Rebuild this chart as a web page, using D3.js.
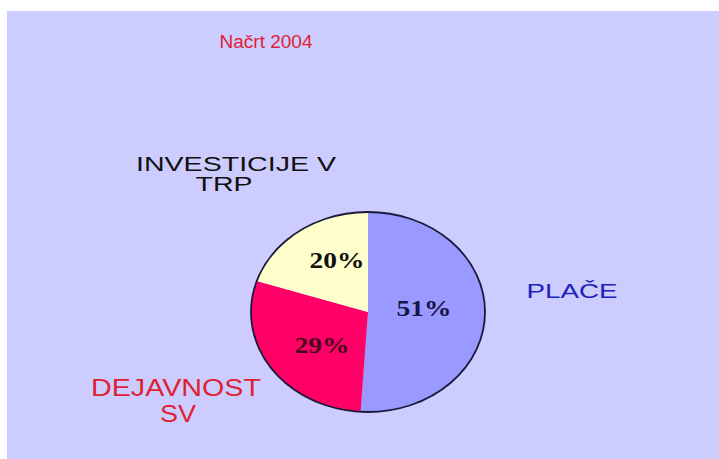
<!DOCTYPE html>
<html>
<head>
<meta charset="utf-8">
<script src="https://cdn.jsdelivr.net/npm/d3@7"></script>
<style>
  body { margin: 0; background: #fff; }
  svg { display: block; }
</style>
</head>
<body>
<svg id="chart"></svg>
<script>
// Podatki
const title = "Načrt 2004";
const categories = ["PLAČE", "DEJAVNOST SV", "INVESTICIJE V TRP"];
const values = [51, 29, 20];
const percentLabels = ["51%", "29%", "20%"];
const colors = ["#9999ff", "#ff0066", "#ffffcc"];

let width = 719,
    height = 459;

let svg = d3.select("#chart")
    .attr("width", width)
    .attr("height", height);

// ozadje
svg.append("rect")
    .attr("x", 7).attr("y", 11)
    .attr("width", width - 7).attr("height", height - 11)
    .attr("fill", "#ccccff");

// naslov
svg.append("text")
    .attr("x", 266).attr("y", 48)
    .attr("text-anchor", "middle")
    .attr("font-family", "Liberation Sans, Arial, sans-serif")
    .attr("font-size", 18)
    .attr("fill", "#dd2233")
    .attr("textLength", 93)
    .attr("lengthAdjust", "spacingAndGlyphs")
    .text(title);

// torta (slika je raztegnjena vodoravno)
let cx = 368, cy = 312, r = 100, sx = 1.17;

let pie = d3.pie().sort(null).value(d => d);
let arc = d3.arc().innerRadius(0).outerRadius(r);

let g = svg.append("g")
    .attr("transform", `translate(${cx},${cy}) scale(${sx},1)`);

g.selectAll("path.slice")
    .data(pie(values))
    .enter()
    .append("path")
    .attr("class", "slice")
    .attr("d", arc)
    .attr("fill", (d, i) => colors[i]);

g.append("circle")
    .attr("r", r)
    .attr("fill", "none")
    .attr("stroke", "#1a1a3a")
    .attr("stroke-width", 1.8)
    .attr("vector-effect", "non-scaling-stroke");

// odstotki
let pctPos = [[424, 316], [322, 353], [337, 268]];
let pctColor = ["#15154a", "#4a0820", "#111111"];
svg.selectAll("text.pct")
    .data(percentLabels)
    .enter()
    .append("text")
    .attr("class", "pct")
    .attr("x", (d, i) => pctPos[i][0])
    .attr("y", (d, i) => pctPos[i][1])
    .attr("text-anchor", "middle")
    .attr("font-family", "Liberation Serif, Times New Roman, serif")
    .attr("font-weight", "bold")
    .attr("font-size", 23)
    .attr("fill", (d, i) => pctColor[i])
    .attr("textLength", 55)
    .attr("lengthAdjust", "spacingAndGlyphs")
    .text(d => d);

// imena kategorij
let labelLines = [
    [{ t: "PLAČE", x: 572, y: 298, w: 91 }],
    [{ t: "DEJAVNOST", x: 176, y: 396, w: 170 }, { t: "SV", x: 178, y: 422, w: 36 }],
    [{ t: "INVESTICIJE V", x: 236, y: 171, w: 200 }, { t: "TRP", x: 224, y: 191, w: 57 }]
];
let labelColor = ["#2222bb", "#dd2233", "#111111"];
let labelSize = [21, 24, 20];

categories.forEach(function(c, i) {
    svg.selectAll("text.lab" + i)
        .data(labelLines[i])
        .enter()
        .append("text")
        .attr("class", "lab" + i)
        .attr("x", d => d.x)
        .attr("y", d => d.y)
        .attr("text-anchor", "middle")
        .attr("font-family", "Liberation Sans, Arial, sans-serif")
        .attr("font-size", labelSize[i])
        .attr("fill", labelColor[i])
        .attr("textLength", d => d.w)
        .attr("lengthAdjust", "spacingAndGlyphs")
        .text(d => d.t);
});
</script>
</body>
</html>
